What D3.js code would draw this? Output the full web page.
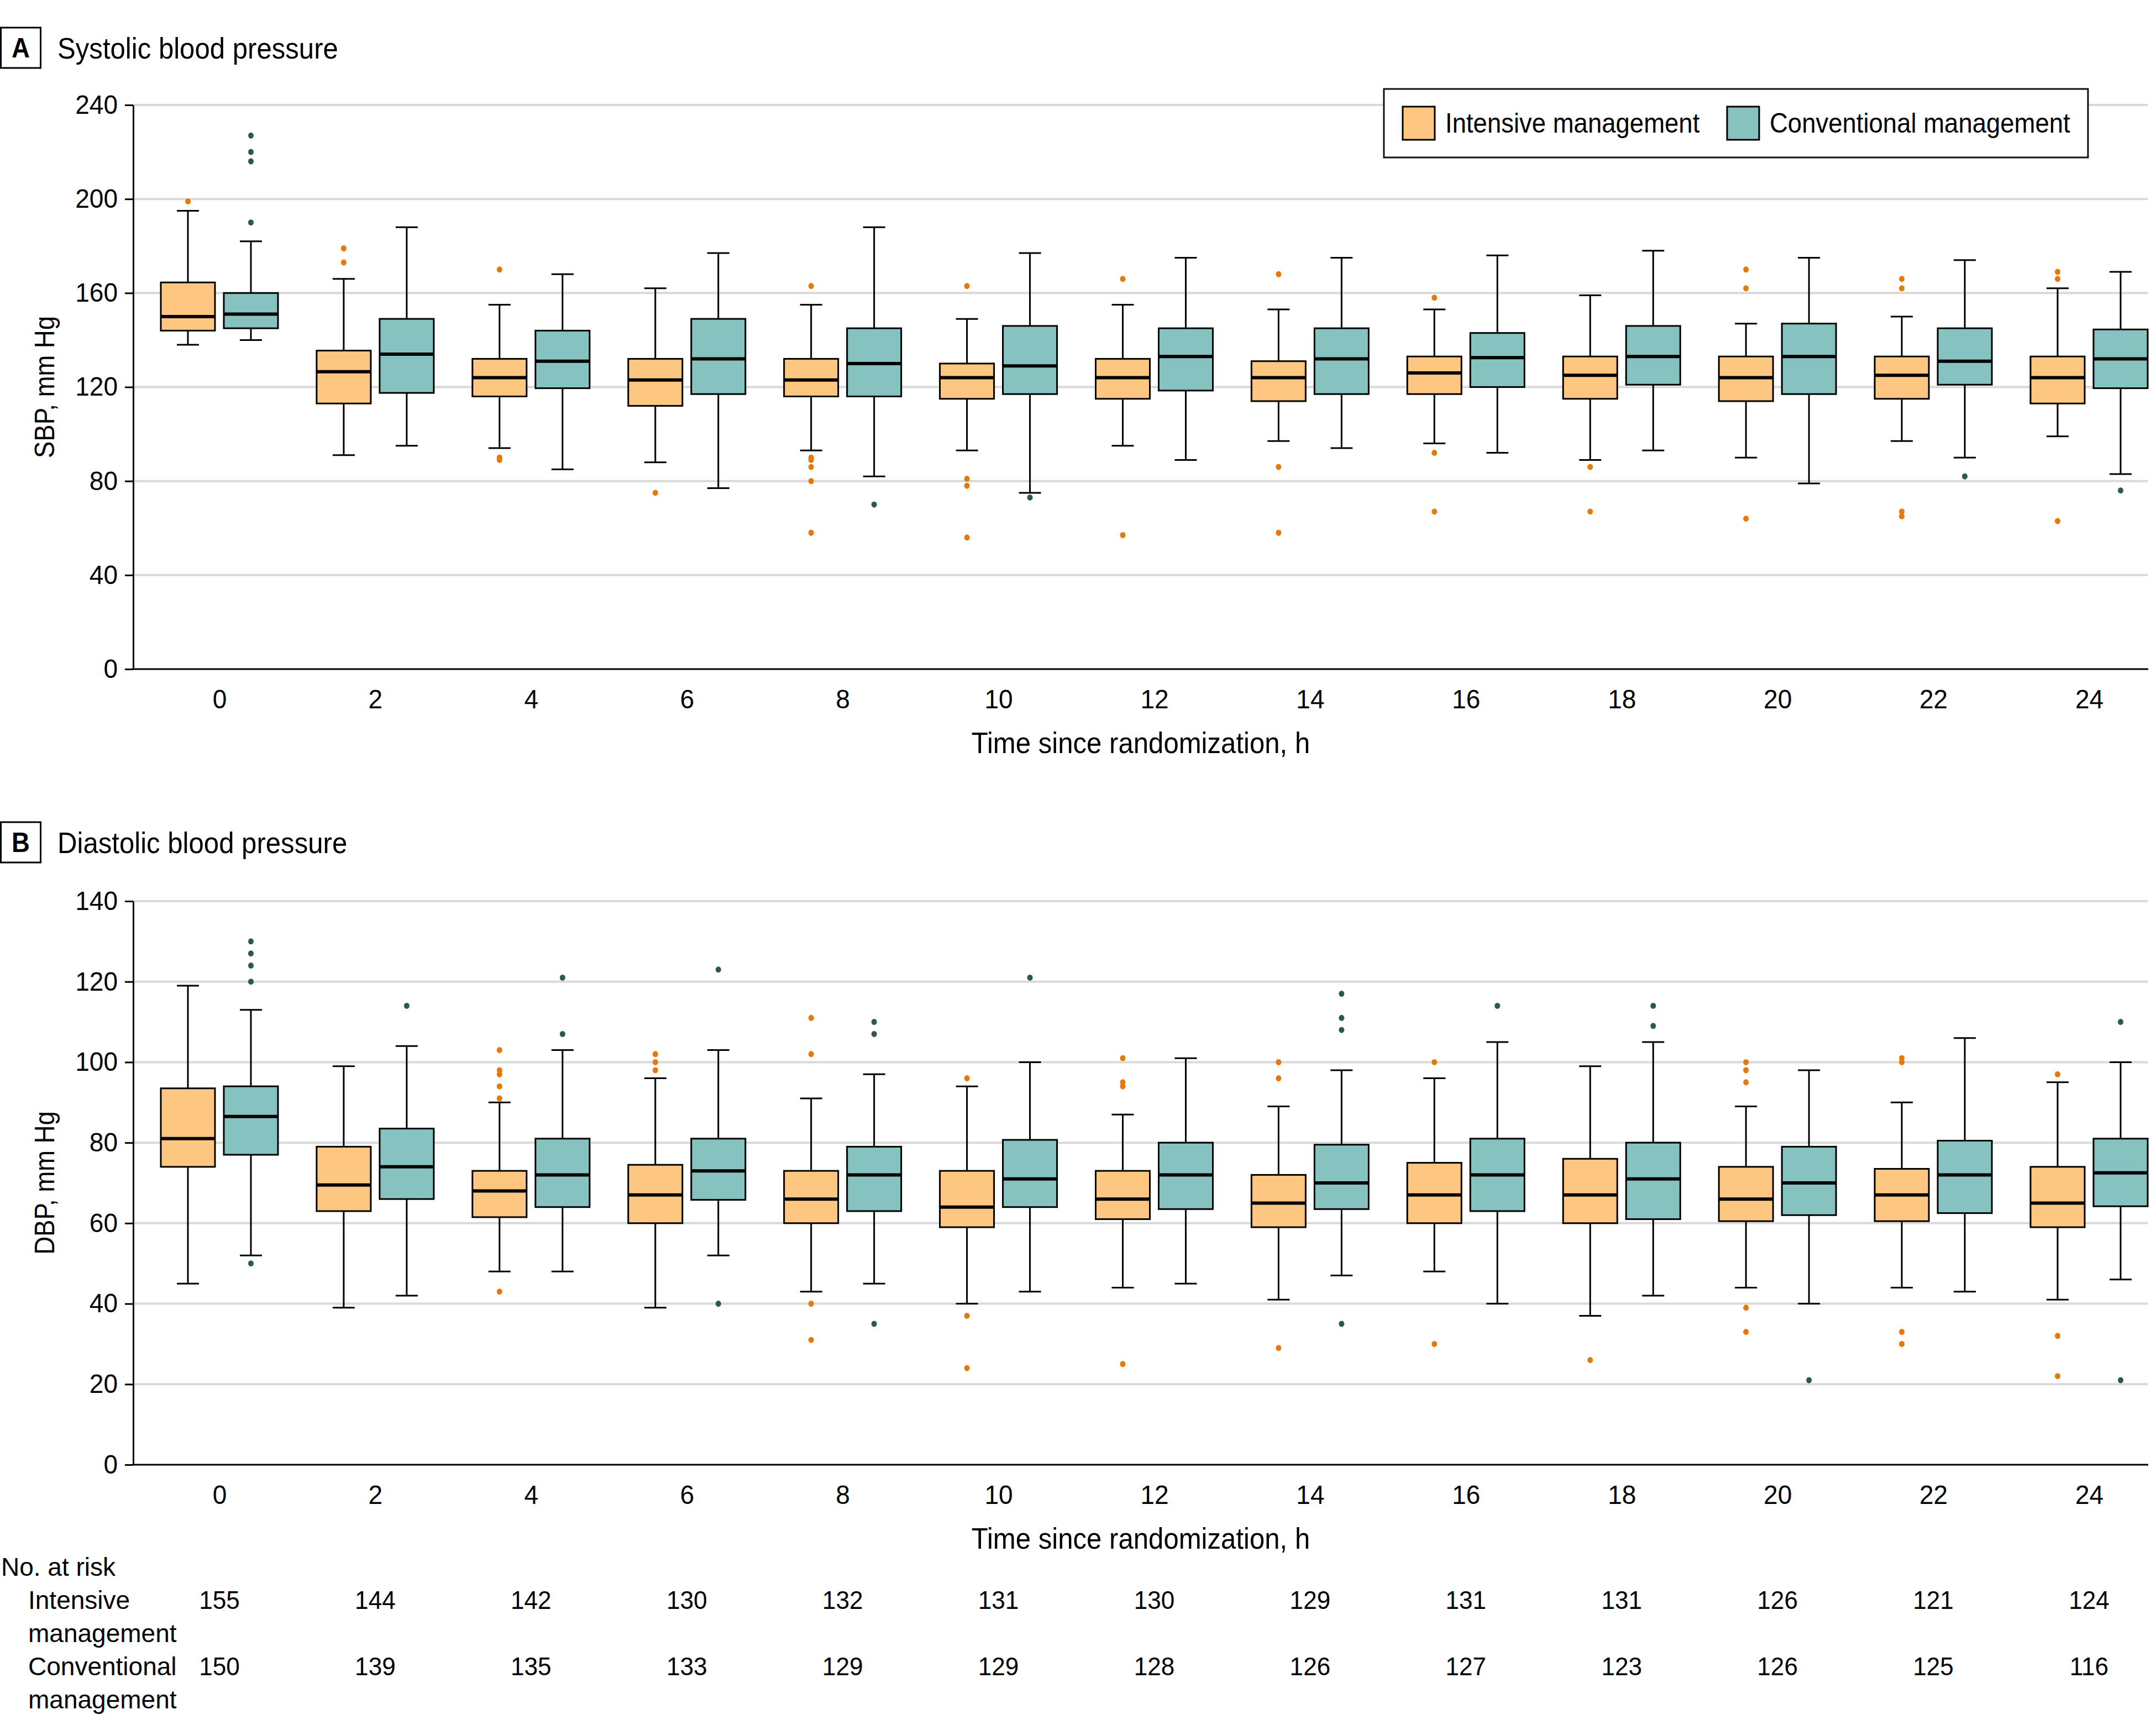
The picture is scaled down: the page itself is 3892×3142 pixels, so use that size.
<!DOCTYPE html>
<html><head><meta charset="utf-8">
<script src="https://cdn.jsdelivr.net/npm/d3@7"></script>
<style>
html,body{margin:0;padding:0;background:#fff;}
svg text{font-family:"Liberation Sans",Arial,sans-serif;fill:#000;}
</style></head><body>
<svg id="c" width="3892" height="3142" xmlns="http://www.w3.org/2000/svg"></svg>
<script>
// ---------- DATA ----------
const hours = [0, 2, 4, 6, 8, 10, 12, 14, 16, 18, 20, 22, 24];
const groups = ["Intensive management", "Conventional management"];

// [lower whisker, Q1, median, Q3, upper whisker]
const sbpIntensive = [
  [138, 144, 150, 164.5, 195], [91, 113, 126.5, 135.5, 166], [94, 116, 124, 132, 155],
  [88, 112, 123, 132, 162], [93, 116, 123, 132, 155], [93, 115, 124, 130, 149],
  [95, 115, 124, 132, 155], [97, 114, 124, 131, 153], [96, 117, 126, 133, 153],
  [89, 115, 125, 133, 159], [90, 114, 124, 133, 147], [97, 115, 125, 133, 150],
  [99, 113, 124, 133, 162]
];
const sbpIntensiveOutliers = [
  [199], [179, 173], [170, 90, 89], [75], [163, 90, 89, 86, 80, 58], [163, 81, 78, 56],
  [166, 57], [168, 86, 58], [158, 92, 67], [86, 67], [170, 162, 64], [166, 162, 67, 65],
  [169, 166, 63]
];
const sbpConventional = [
  [140, 145, 151, 160, 182], [95, 117.5, 134, 149, 188], [85, 119.5, 131, 144, 168],
  [77, 117, 132, 149, 177], [82, 116, 130, 145, 188], [75, 117, 129, 146, 177],
  [89, 118.5, 133, 145, 175], [94, 117, 132, 145, 175], [92, 120, 132.5, 143, 176],
  [93, 121, 133, 146, 178], [79, 117, 133, 147, 175], [90, 121, 131, 145, 174],
  [83, 119.5, 132, 144.5, 169]
];
const sbpConventionalOutliers = [
  [227, 220, 216, 190], [], [], [], [70], [73], [], [], [], [], [], [82], [76]
];

const dbpIntensive = [
  [45, 74, 81, 93.5, 119], [39, 63, 69.5, 79, 99], [48, 61.5, 68, 73, 90],
  [39, 60, 67, 74.5, 96], [43, 60, 66, 73, 91], [40, 59, 64, 73, 94],
  [44, 61, 66, 73, 87], [41, 59, 65, 72, 89], [48, 60, 67, 75, 96],
  [37, 60, 67, 76, 99], [44, 60.5, 66, 74, 89], [44, 60.5, 67, 73.5, 90],
  [41, 59, 65, 74, 95]
];
const dbpIntensiveOutliers = [
  [], [], [103, 98, 97, 94, 91, 43], [102, 100, 98], [111, 102, 40, 31], [96, 37, 24],
  [101, 95, 94, 25], [100, 96, 29], [100, 30], [26], [100, 98, 95, 39, 33],
  [101, 100, 33, 30], [97, 32, 22]
];
const dbpConventional = [
  [52, 77, 86.5, 94, 113], [42, 66, 74, 83.5, 104], [48, 64, 72, 81, 103],
  [52, 65.8, 73, 81, 103], [45, 63, 72, 79, 97], [43, 64, 71, 80.7, 100],
  [45, 63.5, 72, 80, 101], [47, 63.5, 70, 79.5, 98], [40, 63, 72, 81, 105],
  [42, 61, 71, 80, 105], [40, 62, 70, 79, 98], [43, 62.5, 72, 80.5, 106],
  [46, 64.2, 72.5, 81, 100]
];
const dbpConventionalOutliers = [
  [130, 127, 124, 120, 50], [114], [121, 107], [123, 40], [110, 107, 35], [121], [],
  [117, 111, 108, 35], [114], [114, 109], [21], [], [110, 21]
];

const sbpTicks = [0, 40, 80, 120, 160, 200, 240];
const dbpTicks = [0, 20, 40, 60, 80, 100, 120, 140];

const atRiskIntensive = [155, 144, 142, 130, 132, 131, 130, 129, 131, 131, 126, 121, 124];
const atRiskConventional = [150, 139, 135, 133, 129, 129, 128, 126, 127, 123, 126, 125, 116];

// ---------- STYLE ----------
const fillColors = ["#FEC781", "#86C2BF"];
const outlierColors = ["#E8780A", "#2A5858"];
const gridColor = "#D9D9D9";
const TEXT_SX = 0.91, DIGIT_SX = 0.96, TABLE_SX = 1.0;

const svg = d3.select("#c");
const axisLeftX = 241, plotRight = 3887;
const x = d3.scaleLinear().domain([0, 24]).range([397, 3780]);
const groupOffset = 57, boxHalf = 49, capHalf = 20;

// horizontally condense text around its own anchor point
function condense(sel, sx) {
  sel.each(function () {
    const t = d3.select(this);
    const tx = +t.attr("x") || 0, ty = +t.attr("y") || 0;
    t.attr("transform", `translate(${tx},${ty}) scale(${sx},1) translate(${-tx},${-ty})`);
  });
  return sel;
}

function drawPanel(cfg) {
  const g = svg.append("g");
  const y = d3.scaleLinear().domain([0, cfg.max]).range([cfg.bottom, cfg.top]);

  // panel letter + title
  g.append("rect").attr("x", 1.5).attr("y", cfg.letterTop).attr("width", 72).attr("height", 73)
    .attr("fill", "#fff").attr("stroke", "#000").attr("stroke-width", 3);
  g.append("text").attr("x", 37.5).attr("y", cfg.letterTop + 37).attr("text-anchor", "middle")
    .attr("dominant-baseline", "central").attr("font-size", 50).attr("font-weight", "bold").text(cfg.letter)
    .call(condense, TEXT_SX);
  g.append("text").attr("x", 104).attr("y", cfg.letterTop + 56).attr("font-size", 54).text(cfg.title)
    .call(condense, TEXT_SX);

  // gridlines
  g.append("g").selectAll("line").data(cfg.ticks.filter(t => t > 0)).join("line")
    .attr("x1", axisLeftX).attr("x2", plotRight - 1)
    .attr("y1", d => y(d)).attr("y2", d => y(d))
    .attr("stroke", gridColor).attr("stroke-width", 4);

  // y axis
  const ya = g.append("g").attr("transform", `translate(${axisLeftX},0)`)
    .call(d3.axisLeft(y).tickValues(cfg.ticks).tickSize(15).tickSizeOuter(0).tickPadding(13));
  ya.select(".domain").attr("stroke", "#000").attr("stroke-width", 3);
  ya.selectAll(".tick line").attr("stroke", "#000").attr("stroke-width", 3);
  ya.selectAll(".tick text").attr("font-size", 48).attr("font-family", null).attr("fill", "#000")
    .call(condense, DIGIT_SX);

  // x axis
  g.append("line").attr("x1", axisLeftX - 1.5).attr("x2", plotRight).attr("y1", y(0)).attr("y2", y(0))
    .attr("stroke", "#000").attr("stroke-width", 3);
  const xa = g.append("g").attr("transform", `translate(0,${y(0)})`)
    .call(d3.axisBottom(x).tickValues(hours).tickSize(0).tickPadding(37).tickFormat(d3.format("d")));
  xa.select(".domain").remove();
  xa.selectAll(".tick text").attr("font-size", 48).attr("font-family", null).attr("fill", "#000")
    .call(condense, DIGIT_SX);

  g.append("text").attr("x", (axisLeftX + plotRight) / 2).attr("y", y(0) + 152)
    .attr("text-anchor", "middle").attr("font-size", 54).text("Time since randomization, h")
    .call(condense, TEXT_SX);
  g.append("text").attr("transform", `translate(98,${(cfg.top + cfg.bottom) / 2}) rotate(-90) scale(${TEXT_SX},1)`)
    .attr("text-anchor", "middle").attr("font-size", 50).text(cfg.yLabel);

  // boxes
  [cfg.int, cfg.conv].forEach((series, gi) => {
    const outs = gi === 0 ? cfg.intOut : cfg.convOut;
    const off = gi === 0 ? -groupOffset : groupOffset;
    const bg = g.append("g");
    series.forEach((s, i) => {
      const cx = x(hours[i]) + off;
      const [lo, q1, med, q3, hi] = s;
      bg.append("line").attr("x1", cx).attr("x2", cx).attr("y1", y(hi)).attr("y2", y(q3))
        .attr("stroke", "#000").attr("stroke-width", 3);
      bg.append("line").attr("x1", cx).attr("x2", cx).attr("y1", y(q1)).attr("y2", y(lo))
        .attr("stroke", "#000").attr("stroke-width", 3);
      [lo, hi].forEach(v => bg.append("line").attr("x1", cx - capHalf).attr("x2", cx + capHalf)
        .attr("y1", y(v)).attr("y2", y(v)).attr("stroke", "#000").attr("stroke-width", 3));
      bg.append("rect").attr("x", cx - boxHalf).attr("width", boxHalf * 2)
        .attr("y", y(q3)).attr("height", y(q1) - y(q3))
        .attr("fill", fillColors[gi]).attr("stroke", "#000").attr("stroke-width", 3);
      bg.append("line").attr("x1", cx - boxHalf).attr("x2", cx + boxHalf)
        .attr("y1", y(med)).attr("y2", y(med)).attr("stroke", "#000").attr("stroke-width", 6);
      bg.selectAll(null).data(outs[i]).join("ellipse")
        .attr("cx", cx).attr("cy", d => y(d)).attr("rx", 5).attr("ry", 5.5)
        .attr("fill", outlierColors[gi]);
    });
  });
  return g;
}

drawPanel({letter: "A", title: "Systolic blood pressure", letterTop: 50, max: 240, top: 190, bottom: 1211,
  ticks: sbpTicks, yLabel: "SBP, mm Hg", int: sbpIntensive, conv: sbpConventional,
  intOut: sbpIntensiveOutliers, convOut: sbpConventionalOutliers});
drawPanel({letter: "B", title: "Diastolic blood pressure", letterTop: 1488, max: 140, top: 1631, bottom: 2651,
  ticks: dbpTicks, yLabel: "DBP, mm Hg", int: dbpIntensive, conv: dbpConventional,
  intOut: dbpIntensiveOutliers, convOut: dbpConventionalOutliers});

// legend
const lg = svg.append("g");
lg.append("rect").attr("x", 2504).attr("y", 161).attr("width", 1274).attr("height", 124)
  .attr("fill", "#fff").attr("stroke", "#111").attr("stroke-width", 3);
const legendX = [2538, 3125];
groups.forEach((name, i) => {
  lg.append("rect").attr("x", legendX[i]).attr("y", 193).attr("width", 58).attr("height", 60)
    .attr("fill", fillColors[i]).attr("stroke", "#000").attr("stroke-width", 3);
  lg.append("text").attr("x", legendX[i] + 77).attr("y", 240).attr("font-size", 50).text(name)
    .call(condense, TEXT_SX);
});

// numbers at risk
const tg = svg.append("g");
tg.append("text").attr("x", 2).attr("y", 2852).attr("font-size", 46).text("No. at risk").call(condense, TABLE_SX);
[["Intensive", "management", atRiskIntensive, 2912], ["Conventional", "management", atRiskConventional, 3032]]
  .forEach(([l1, l2, vals, base]) => {
    tg.append("text").attr("x", 51).attr("y", base).attr("font-size", 46).text(l1).call(condense, TABLE_SX);
    tg.append("text").attr("x", 51).attr("y", base + 60).attr("font-size", 46).text(l2).call(condense, TABLE_SX);
    tg.selectAll(null).data(vals).join("text")
      .attr("x", (d, i) => x(hours[i])).attr("y", base).attr("text-anchor", "middle")
      .attr("font-size", 46).text(d => d).call(condense, DIGIT_SX);
  });
</script>
</body></html>
